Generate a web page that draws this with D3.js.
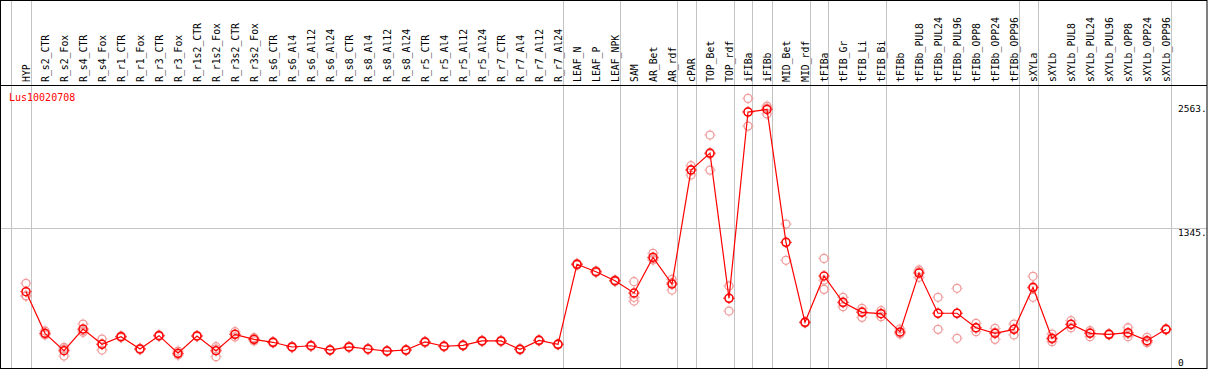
<!DOCTYPE html>
<html>
<head>
<meta charset="utf-8">
<script src="https://cdn.jsdelivr.net/npm/d3@7"></script>
<style>
  body { margin: 0; background: #fff; }
  svg text { font-family: "DejaVu Sans Mono", "Liberation Mono", monospace; }
</style>
</head>
<body>
<div class="chart-container"></div>
<script>
//! CONSTS
const WIDTH = 1209;
const HEIGHT = 370;
const HEADER = 85;

//! DATA
const GENE = 'Lus10020708';

const samples = [
  'HYP', 'R_s2_CTR', 'R_s2_Fox', 'R_s4_CTR', 'R_s4_Fox', 'R_r1_CTR', 'R_r1_Fox', 'R_r3_CTR', 'R_r3_Fox',
  'R_r1s2_CTR', 'R_r1s2_Fox', 'R_r3s2_CTR', 'R_r3s2_Fox', 'R_s6_CTR', 'R_s6_Al4', 'R_s6_Al12', 'R_s6_Al24',
  'R_s8_CTR', 'R_s8_Al4', 'R_s8_Al12', 'R_s8_Al24', 'R_r5_CTR', 'R_r5_Al4', 'R_r5_Al12', 'R_r5_Al24',
  'R_r7_CTR', 'R_r7_Al4', 'R_r7_Al12', 'R_r7_Al24', 'LEAF_N', 'LEAF_P', 'LEAF_NPK', 'SAM', 'AR_Bet', 'AR_rdf',
  'cPAR', 'TOP_Bet', 'TOP_rdf', 'iFIBa', 'iFIBb', 'MID_Bet', 'MID_rdf', 'tFIBa', 'tFIB_Gr', 'tFIB_Li', 'tFIB_Bi',
  'tFIBb', 'tFIBb_PUL8', 'tFIBb_PUL24', 'tFIBb_PUL96', 'tFIBb_OPP8', 'tFIBb_OPP24', 'tFIBb_OPP96',
  'sXYLa', 'sXYLb', 'sXYLb_PUL8', 'sXYLb_PUL24', 'sXYLb_PUL96', 'sXYLb_OPP8', 'sXYLb_OPP24', 'sXYLb_OPP96'
];

// mean expression per sample
const means = [
  720, 311, 140, 353, 203, 278, 157, 288, 115, 285, 140, 301, 252, 223, 177, 189, 147,
  177, 157, 137, 147, 226, 184, 193, 236, 236, 154, 242, 203, 989, 916, 828, 707, 1057, 795,
  1914, 2081, 655, 2484, 2510, 1205, 419, 874, 616, 517, 504,
  324, 903, 508, 508, 366, 311, 350,
  763, 262, 400, 311, 301, 317, 239, 350
];

// replicate values per sample
const reps = [
  [802, 677, 680], [334, 295, 305], [174, 88, 157], [402, 321, 336], [255, 147, 206],
  [285, 270, 279], [150, 164, 157], [295, 282, 287], [137, 98, 110], [290, 280, 285],
  [180, 81, 159], [327, 275, 301], [236, 268, 252], [230, 216, 223], [183, 171, 177],
  [195, 183, 189], [152, 142, 147], [183, 171, 177], [162, 152, 157], [142, 132, 137],
  [152, 142, 147], [232, 220, 226], [190, 178, 184], [199, 187, 193], [242, 230, 236],
  [242, 230, 236], [160, 148, 154], [248, 236, 242], [209, 197, 203], [997, 981, 989],
  [924, 908, 916], [836, 820, 828], [818, 665, 628], [1097, 1031, 1043], [841, 736, 808],
  [1957, 1865, 1920], [2258, 1914, 2071], [776, 530, 660], [2618, 2346, 2488], [2543, 2523, 2465],
  [1384, 1028, 1203], [425, 413, 419], [1047, 743, 832], [665, 572, 611], [557, 468, 526],
  [533, 474, 505], [353, 304, 315], [933, 861, 915], [665, 350, 509], [753, 262, 509],
  [409, 327, 362], [360, 252, 321], [402, 295, 353], [871, 665, 753], [304, 229, 253],
  [435, 366, 399], [337, 278, 318], [307, 295, 301], [366, 278, 307], [272, 219, 226],
  [356, 344, 350]
];

const yTicks = [2563, 1345, 0];
const gridTicks = [1345];
// sample index after which a group separator is drawn
const groupEnds = [-1, 0, 28, 31, 34, 35, 37, 38, 39, 41, 42, 45, 52, 53, 60];

//! SCALES
const x = d3.scaleLinear().domain([0, samples.length - 1]).range([26, 1166]);
const y = d3.scaleLinear().domain([0, 2563]).range([365, 104]);

//! SVG
const svg = d3.select('.chart-container')
  .append('svg')
  .attr('width', WIDTH)
  .attr('height', HEIGHT);

// group separators
svg.append('g')
  .selectAll('line')
  .data(groupEnds)
  .enter()
  .append('line')
  .attr('x1', d => Math.round(x(d) + 4.5) + 0.5)
  .attr('x2', d => Math.round(x(d) + 4.5) + 0.5)
  .attr('y1', 0)
  .attr('y2', 369)
  .attr('stroke', '#c4c4c4')
  .attr('stroke-width', 1);

// horizontal grid
svg.append('g')
  .selectAll('line')
  .data(gridTicks)
  .enter()
  .append('line')
  .attr('x1', 0)
  .attr('x2', 1207)
  .attr('y1', d => Math.round(y(d)) + 0.5)
  .attr('y2', d => Math.round(y(d)) + 0.5)
  .attr('stroke', '#c4c4c4');

// sample labels in header
svg.append('g')
  .selectAll('text')
  .data(samples)
  .enter()
  .append('text')
  .attr('transform', (d, i) => `translate(${x(i) + 4},82) rotate(-90)`)
  .attr('font-size', '9.8px')
  .attr('fill', '#000')
  .text(d => d);

// frame and header line
svg.append('rect')
  .attr('x', 0.5).attr('y', 0.5)
  .attr('width', 1206.5).attr('height', 368)
  .attr('fill', 'none')
  .attr('stroke', '#000');

svg.append('line')
  .attr('x1', 0).attr('x2', 1207)
  .attr('y1', HEADER + 0.5).attr('y2', HEADER + 0.5)
  .attr('stroke', '#000');

// gene name
svg.append('text')
  .attr('x', 9)
  .attr('y', 101)
  .attr('font-size', '10px')
  .attr('fill', '#ff0000')
  .text(GENE);

// y tick labels on the right
svg.append('g')
  .selectAll('text')
  .data(yTicks)
  .enter()
  .append('text')
  .attr('x', 1178)
  .attr('y', d => Math.min(y(d) + 7.5, 366))
  .attr('font-size', '9.5px')
  .attr('fill', '#000')
  .text(d => d === 0 ? '0' : `${d}.`);

// marker: circle with tiny nubs
const marker = (sel, color, sw) => {
  sel.append('circle')
    .attr('r', 4)
    .attr('fill', 'none')
    .attr('stroke', color)
    .attr('stroke-width', sw);
  sel.append('path')
    .attr('d', 'M0,-5.6V-4.6M0,4.6V5.6M-5.6,0H-4.6M4.6,0H5.6')
    .attr('stroke', color)
    .attr('stroke-width', 1);
};

// replicates
const repData = [];
reps.forEach((r, i) => r.forEach(v => repData.push({ i, v })));

svg.append('g')
  .selectAll('g')
  .data(repData)
  .enter()
  .append('g')
  .attr('transform', d => `translate(${x(d.i)},${y(d.v)})`)
  .call(sel => marker(sel, '#f09a9a', 1.3));

// mean line
const line = d3.line()
  .x((d, i) => x(i))
  .y(d => y(d));

svg.append('path')
  .datum(means)
  .attr('d', line)
  .attr('fill', 'none')
  .attr('stroke', '#ff0000')
  .attr('stroke-width', 1.2);

// mean markers
svg.append('g')
  .selectAll('g')
  .data(means)
  .enter()
  .append('g')
  .attr('transform', (d, i) => `translate(${x(i)},${y(d)})`)
  .call(sel => marker(sel, '#ff0000', 1.5));
</script>
</body>
</html>
